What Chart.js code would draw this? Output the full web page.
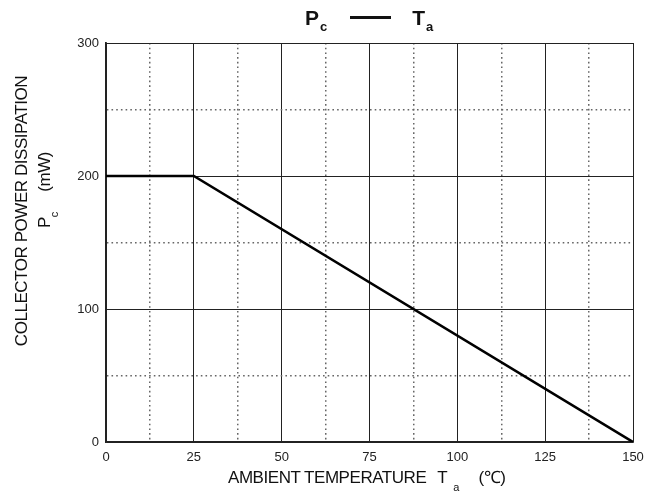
<!DOCTYPE html>
<html>
<head>
<meta charset="utf-8">
<title>Pc - Ta</title>
<script src="https://cdn.jsdelivr.net/npm/chart.js@4.4.1/dist/chart.umd.min.js"></script>
<style>
  html, body { margin: 0; padding: 0; background: #fff; }
  #wrap { position: relative; width: 661px; height: 492px; font-family: 'Liberation Sans', Arial, sans-serif; color: #111; }
  #wrap canvas { position: absolute; left: 0; top: 0; }
  .txt { position: absolute; white-space: nowrap; line-height: 1; }
  .title { font-weight: bold; font-size: 21px; }
  .title sub { font-size: 13px; vertical-align: -6px; margin-left: 1px; }
  .dash { display: inline-block; width: 41px; height: 3px; background: #111; vertical-align: 6px; margin: 0 21px 0 23px; }
  .axt { font-size: 17px; letter-spacing: -0.45px; }
  .axt sub { font-size: 11px; vertical-align: -8px; letter-spacing: 0; }
  .rot { transform: translate(-50%, -50%) rotate(-90deg); }
</style>
</head>
<body>
<div id="wrap">
  <canvas id="pcChart" width="661" height="492"></canvas>
  <div class="txt title" style="left:305px; top:7px;">P<sub>c</sub><span class="dash"></span>T<sub>a</sub></div>
  <div class="txt axt" style="left:228px; top:469px;">AMBIENT TEMPERATURE<span style="margin-left:11px">T</span><sub style="margin-left:6px">a</sub><span style="margin-left:19px">(℃)</span></div>
  <div class="txt axt rot" style="left:21px; top:211px;">COLLECTOR POWER DISSIPATION</div>
  <div class="txt axt rot" style="left:48px; top:190px;">P<sub>c</sub><span style="margin-left:20px">(mW)</span></div>
</div>
<script>
// data
const temps = [0, 25, 150];          // ambient temperature, °C
const power = [200, 200, 0];         // collector power dissipation, mW
const xTickLabels = [0, 25, 50, 75, 100, 125, 150];
const yTickLabels = [0, 100, 200, 300];

(function(){
  const solid = '#222';
  const dotted = '#666';

  function isMajorX(v){ return xTickLabels.includes(v); }
  function isMajorY(v){ return yTickLabels.includes(v); }

  const ctx = document.getElementById('pcChart').getContext('2d');
  new Chart(ctx, {
    type: 'line',
    data: {
      datasets: [{
        data: temps.map((t, i) => ({ x: t, y: power[i] })),
        borderColor: '#000',
        borderWidth: 2.6,
        pointRadius: 0,
        tension: 0,
        fill: false
      }]
    },
    options: {
      responsive: false,
      animation: false,
      devicePixelRatio: 1,
      layout: { padding: { top: 43, right: 28, left: 0, bottom: 0 } },
      plugins: { legend: { display: false }, tooltip: { enabled: false }, title: { display: false } },
      scales: {
        x: {
          type: 'linear',
          min: 0, max: 150,
          afterFit(scale){ scale.height = 50; },
          ticks: {
            stepSize: 12.5,
            autoSkip: false,
            maxRotation: 0,
            padding: 8,
            color: '#222',
            font: { family: "'Liberation Sans', Arial, sans-serif", size: 13 },
            callback: v => isMajorX(v) ? String(v) : ''
          },
          grid: {
            drawTicks: false,
            lineWidth: c => (c.tick && isMajorX(c.tick.value)) ? 1 : 1.5,
            color: c => (c.tick && isMajorX(c.tick.value)) ? solid : dotted
          },
          border: {
            display: true,
            color: solid,
            width: 1.8,
            dash: c => (c.tick && !isMajorX(c.tick.value)) ? [1.6, 3.1] : []
          }
        },
        y: {
          type: 'linear',
          min: 0, max: 300,
          afterFit(scale){ scale.width = 106; },
          ticks: {
            stepSize: 50,
            autoSkip: false,
            padding: 7,
            color: '#222',
            font: { family: "'Liberation Sans', Arial, sans-serif", size: 13 },
            callback: v => isMajorY(v) ? String(v) : ''
          },
          grid: {
            drawTicks: false,
            lineWidth: c => (c.tick && isMajorY(c.tick.value)) ? 1 : 1.5,
            color: c => (c.tick && isMajorY(c.tick.value)) ? solid : dotted
          },
          border: {
            display: true,
            color: solid,
            width: 1.8,
            dash: c => (c.tick && !isMajorY(c.tick.value)) ? [1.6, 3.1] : []
          }
        }
      }
    }
  });
})();
</script>
</body>
</html>
